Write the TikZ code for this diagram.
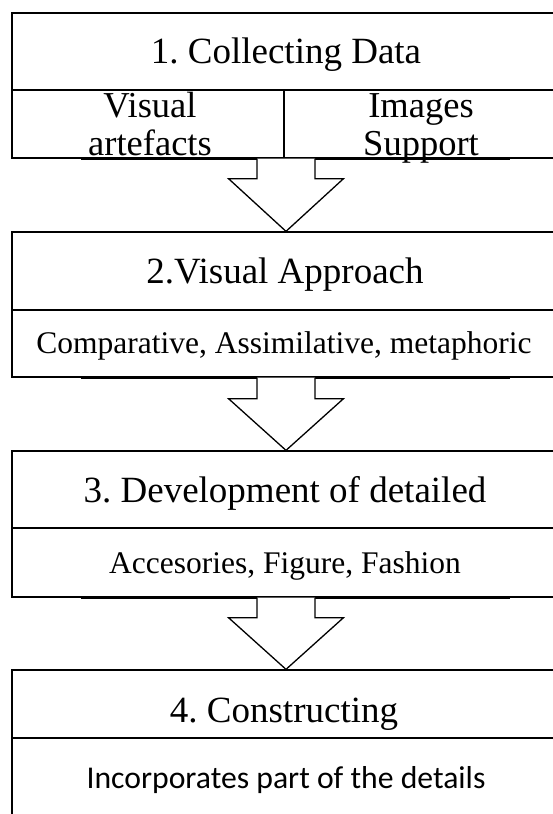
\documentclass[tikz,border=0pt]{standalone}
\usepackage{fontspec}
\setmainfont{Liberation Serif}
\newfontfamily\calfont{Carlito}
\usetikzlibrary{calc}
\frenchspacing
\begin{document}
\begin{tikzpicture}[x=1pt,y=-1pt,
  boxpart/.style={draw, line width=1.3pt, inner sep=0pt, minimum width=548pt},
  heavyline/.style={line width=3.2pt},
  barrow/.style={draw, fill=white, line width=1.3pt, line join=miter},
  ttl/.style={anchor=base, inner sep=0pt, font=\fontsize{37}{40}\selectfont},
  twoline/.style={anchor=base, inner sep=0pt, align=center, font=\fontsize{36.5}{38}\selectfont},
  subtxt/.style={anchor=base, inner sep=0pt, font=\fontsize{31.5}{34}\selectfont},
  caltxt/.style={anchor=base, inner sep=0pt, font=\calfont\fontsize{31.7}{34}\selectfont}]
\useasboundingbox (0,0) rectangle (553,814);
\fill[white] (0,0) rectangle (553,814);

% box 1
\node[boxpart, minimum height=77pt] (t1) at (286,51.5) {};
\node[boxpart, minimum width=272pt, minimum height=68pt] (s1a) at (148,124) {};
\node[boxpart, minimum width=276pt, minimum height=68pt] (s1b) at (422,124) {};
% box 2
\node[boxpart, minimum height=78pt] (t2) at (286,271) {};
\node[boxpart, minimum height=67pt] (s2) at (286,343.5) {};
% box 3
\node[boxpart, minimum height=77pt] (t3) at (286,489.5) {};
\node[boxpart, minimum height=69pt] (s3) at (286,562.5) {};
% box 4
\node[boxpart, minimum height=68pt] (t4) at (286,704) {};
\node[boxpart, minimum height=92pt] (s4) at (286,784) {};

% heavy bottom strokes
\draw[heavyline] (81,158.8) -- (510,158.8);
\draw[heavyline] (81,377.8) -- (510,377.8);
\draw[heavyline] (81,597.8) -- (510,597.8);

% block arrows
\coordinate (p1) at (t2.north |- s1a.south);
\coordinate (p2) at (t3.north |- s2.south);
\coordinate (p3) at (t4.north |- s3.south);
\draw[barrow] ($(p1)+(-29,0)$) -- ++(0,20) -- ++(-28.5,0) -- (t2.north) -- ($(p1)+(57.5,20)$) -- ++(-28.5,0) -- ($(p1)+(29,0)$);
\draw[barrow] ($(p2)+(-29,0)$) -- ++(0,21) -- ++(-28.5,0) -- (t3.north) -- ($(p2)+(57.5,21)$) -- ++(-28.5,0) -- ($(p2)+(29,0)$);
\draw[barrow] ($(p3)+(-29,0)$) -- ++(0,20) -- ++(-28.5,0) -- (t4.north) -- ($(p3)+(57.5,20)$) -- ++(-28.5,0) -- ($(p3)+(29,0)$);

% texts
\node[ttl] (l1) at (286,63) {1. Collecting Data};
\node[twoline] (l1a) at (150,155) {Visual\\artefacts};
\node[twoline] (l1b) at (421,155) {Images\\Support};
\node[ttl] (l2) at (285,283) {2.Visual Approach};
\node[subtxt] (l2s) at (284,353) {Comparative, Assimilative, metaphoric};
\node[ttl] (l3) at (285,502) {3. Development of detailed};
\node[subtxt] (l3s) at (285,573) {Accesories, Figure, Fashion};
\node[ttl] (l4) at (284,722) {4. Constructing};
\node[caltxt] (l4s) at (286,788) {Incorporates part of the details};
\end{tikzpicture}
\end{document}
